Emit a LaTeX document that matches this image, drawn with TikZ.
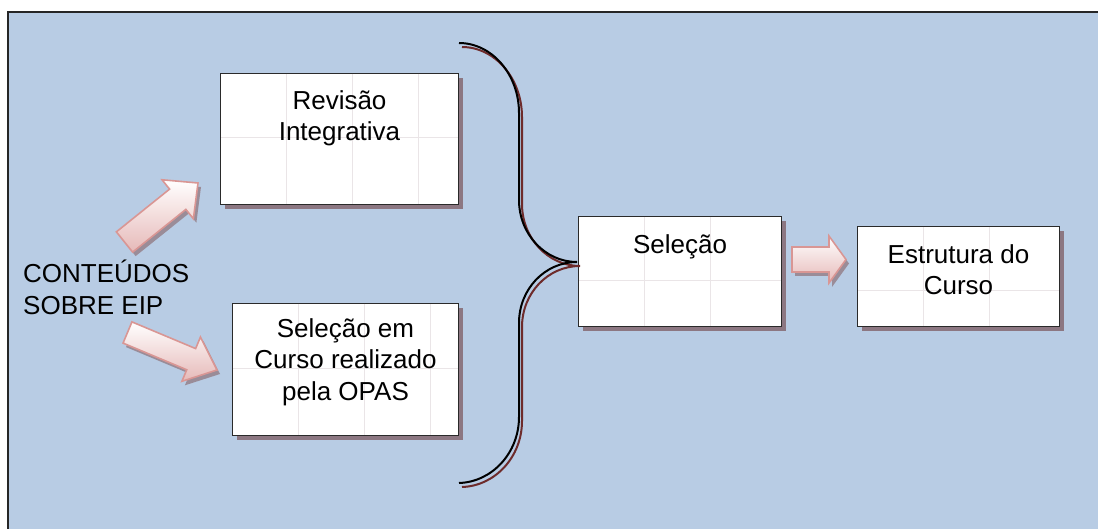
\documentclass[tikz,border=0pt]{standalone}
\usepackage{fontspec}
\setmainfont{Liberation Sans}
\usepackage{tikz}
\usetikzlibrary{calc,shadows}
\definecolor{bg}{HTML}{B8CCE4}
\definecolor{shd}{HTML}{8C7782}
\definecolor{ashd}{HTML}{9A8C98}
\definecolor{boxline}{HTML}{2A2A2A}
\definecolor{gridc}{HTML}{EAE5E7}
\definecolor{pinkline}{HTML}{D99694}
\definecolor{pinkfill}{HTML}{E6B9B8}
\definecolor{brred}{HTML}{6E2B2B}
\tikzstyle{box}=[draw=boxline, fill=white, line width=1pt, inner sep=0pt, anchor=north west,
  drop shadow={shadow xshift=4.5pt, shadow yshift=-4.5pt, fill=shd, opacity=1}]
\tikzstyle{txt}=[font=\fontsize{26}{31.5}\selectfont, align=center, anchor=north, inner sep=0pt]
\tikzstyle{grd}=[gridc, line width=1pt]
\tikzstyle{brc}=[line width=2pt]
\tikzstyle{blk}=[draw=pinkline, line width=1.6pt, top color=white, bottom color=pinkfill]
% grid inside a box: node, number of vertical lines
\newcommand\grade[2]{%
  \foreach \i in {1,...,#2}
    \draw[grd] ($(#1.north west)+(66*\i,1)$) -- ($(#1.south west)+(66*\i,-1)$);
  \draw[grd] ($(#1.north west)+(1,65)$) -- ($(#1.north east)+(-1,65)$);
}
% block arrow: tail, tip, shaft half width, head half width, head length
\newcommand\blockarrow[5]{%
  \coordinate (h) at ($(#2)!#5!(#1)$);
  \fill[ashd, transform canvas={xshift=3pt, yshift=-4pt}] ($(#1)!#3!90:(#2)$) -- ($(h)!#3!90:(#2)$)
    -- ($(h)!#4!90:(#2)$) -- (#2) -- ($(h)!#4!-90:(#2)$) -- ($(h)!#3!-90:(#2)$)
    -- ($(#1)!#3!-90:(#2)$) -- cycle;
  \path[blk] ($(#1)!#3!90:(#2)$) -- ($(h)!#3!90:(#2)$)
    -- ($(h)!#4!90:(#2)$) -- (#2) -- ($(h)!#4!-90:(#2)$) -- ($(h)!#3!-90:(#2)$)
    -- ($(#1)!#3!-90:(#2)$) -- cycle;
}
% the brace
\newcommand\chave[1]{%
  \draw[brc,#1] (T) .. controls (492,43) and (519,74.5) .. (519,113) -- (519,200)
    .. controls (519,234) and (545,262) .. (P)
    .. controls (545,262) and (519,289) .. (519,323) -- (519,417)
    .. controls (519,453) and (492,482) .. (B);
}

\begin{document}
\begin{tikzpicture}[x=1pt,y=-1pt]
  \useasboundingbox (0,0) rectangle (1098,529);
  \fill[bg] (8,12) rectangle (1098,529);
  \draw[line width=1.5pt, black!85] (8,529) -- (8,12) -- (1098,12);

  % boxes
  \node[box, minimum width=238pt, minimum height=131pt] (R) at (220,73) {};
  \node[box, minimum width=226pt, minimum height=132pt] (S) at (232,303) {};
  \node[box, minimum width=203pt, minimum height=110pt] (Sel) at (578,216) {};
  \node[box, minimum width=202pt, minimum height=100pt] (E) at (857,226) {};
  \grade{R}{3}
  \grade{S}{3}
  \grade{Sel}{2}
  \grade{E}{2}
  \node[txt] at ($(R.north)+(0,14)$) {\strut Revisão\\Integrativa};
  \node[txt] at ($(S.north)+(0,12)$) {\strut Seleção em\\Curso realizado\\pela OPAS};
  \node[txt] at ($(Sel.north)+(0,15)$) {\strut Seleção};
  \node[txt] at ($(E.north)+(0,15)$) {\strut Estrutura do\\Curso};
  \node[txt, align=left, anchor=north west] (C) at (23,260) {\strut CONTEÚDOS\\SOBRE EIP};

  % brace
  \coordinate (T) at ($(R.north east)+(0,-30)$);
  \coordinate (B) at ($(S.south east)+(0,47)$);
  \coordinate (P) at ($(Sel.north west)+(-1,46)$);
  \chave{brred, transform canvas={xshift=3pt, yshift=-4pt}}
  \chave{black}

  % block arrows
  \coordinate (A1) at (124.5,242);
  \coordinate (A2) at (198,183);
  \coordinate (A3) at (127.5,332.5);
  \coordinate (A4) at (217,370);
  \coordinate (A5) at (792,259.5);
  \coordinate (A6) at (846,259.5);
  \blockarrow{A1}{A2}{13pt}{25pt}{26pt}
  \blockarrow{A3}{A4}{11.5pt}{24pt}{28pt}
  \blockarrow{A5}{A6}{12.5pt}{23.5pt}{17pt}
\end{tikzpicture}
\end{document}
